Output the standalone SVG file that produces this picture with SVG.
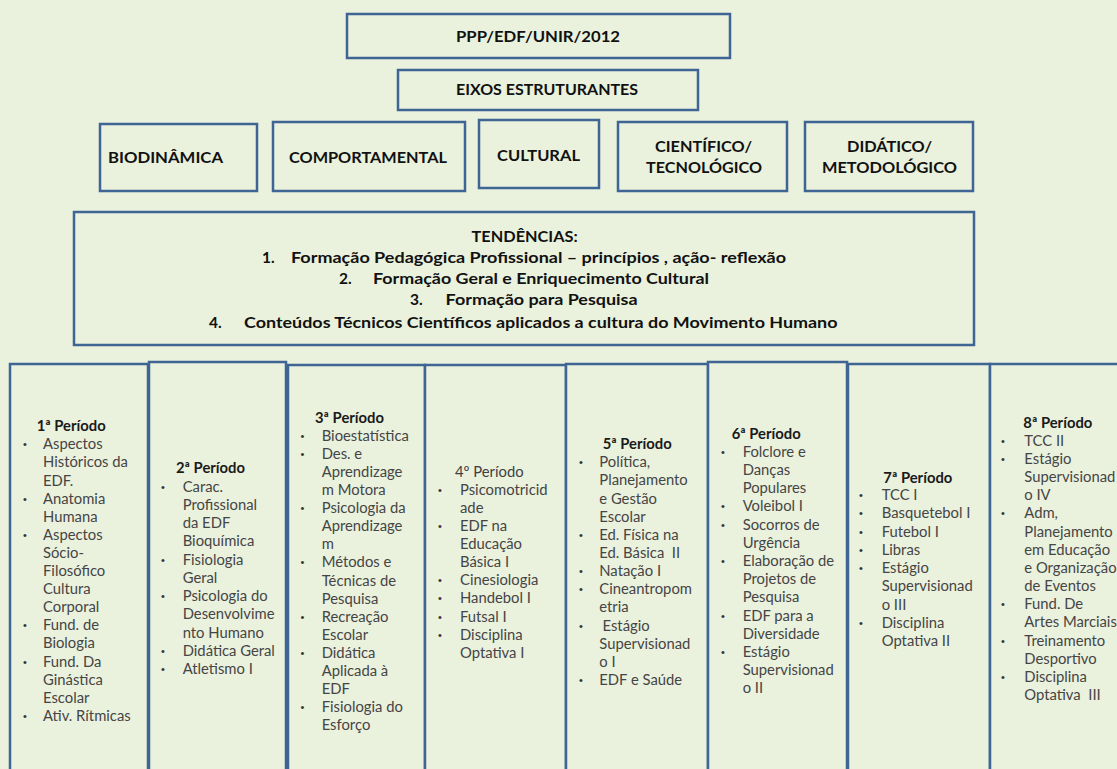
<svg xmlns="http://www.w3.org/2000/svg" width="1117" height="769" viewBox="0 0 1117 769">
<style>
.box{fill:#EAF1DD;stroke:#3F6594;stroke-width:2.5}
.hd{font-family:Lato,"Liberation Sans",sans-serif;font-weight:bold;font-size:16px;fill:#111}
.td{font-family:Lato,"Liberation Sans",sans-serif;font-weight:bold;font-size:15.5px;fill:#111}
.ti{font-family:Lato,"Liberation Sans",sans-serif;font-weight:bold;font-size:14.8px;fill:#1a1a1a}
.tn{font-family:Lato,"Liberation Sans",sans-serif;font-size:14.8px;fill:#404040}
.it{font-family:Lato,"Liberation Sans",sans-serif;font-size:14.8px;fill:#454545}
.bu{font-family:"Liberation Sans",sans-serif;font-size:11px;fill:#333}
</style>
<rect x="0" y="0" width="1117" height="769" fill="#EAF1DD"/>
<g id="ppp"><rect class="box" x="347" y="14" width="383" height="44"/><text class="hd" x="456" y="42" textLength="164" lengthAdjust="spacingAndGlyphs">PPP/EDF/UNIR/2012</text></g>
<g id="eixos"><rect class="box" x="398" y="70" width="300" height="40"/><text class="hd" x="456" y="95" textLength="182" lengthAdjust="spacingAndGlyphs">EIXOS ESTRUTURANTES</text></g>
<g id="biodinamica"><rect class="box" x="100" y="124" width="157" height="67"/><text class="hd" x="108" y="163" textLength="115" lengthAdjust="spacingAndGlyphs">BIODINÂMICA</text></g>
<g id="comportamental"><rect class="box" x="273" y="122" width="192" height="69"/><text class="hd" x="289" y="163" textLength="158" lengthAdjust="spacingAndGlyphs">COMPORTAMENTAL</text></g>
<g id="cultural"><rect class="box" x="479" y="120" width="120" height="68"/><text class="hd" x="497" y="161" textLength="83" lengthAdjust="spacingAndGlyphs">CULTURAL</text></g>
<g id="cientifico"><rect class="box" x="618" y="122" width="169" height="69"/><text class="hd" x="655" y="152" textLength="97" lengthAdjust="spacingAndGlyphs">CIENTÍFICO/</text><text class="hd" x="646" y="173" textLength="116" lengthAdjust="spacingAndGlyphs">TECNOLÓGICO</text></g>
<g id="didatico"><rect class="box" x="805" y="122" width="168" height="69"/><text class="hd" x="847" y="152" textLength="85" lengthAdjust="spacingAndGlyphs">DIDÁTICO/</text><text class="hd" x="822" y="173" textLength="135" lengthAdjust="spacingAndGlyphs">METODOLÓGICO</text></g>
<g id="tendencias"><rect class="box" x="74" y="212" width="900" height="133"/>
<text class="td" x="471.6" y="242" textLength="106" lengthAdjust="spacingAndGlyphs">TENDÊNCIAS:</text>
<text class="td" x="262" y="263">1.</text><text class="td" x="291" y="263" textLength="495" lengthAdjust="spacingAndGlyphs">Formação Pedagógica Profissional – princípios , ação- reflexão</text>
<text class="td" x="339" y="284">2.</text><text class="td" x="373" y="284" textLength="336" lengthAdjust="spacingAndGlyphs">Formação Geral e Enriquecimento Cultural</text>
<text class="td" x="410" y="305">3.</text><text class="td" x="445.6" y="305" textLength="192" lengthAdjust="spacingAndGlyphs">Formação para Pesquisa</text>
<text class="td" x="209" y="328">4.</text><text class="td" x="244" y="328" textLength="593.5" lengthAdjust="spacingAndGlyphs">Conteúdos Técnicos Científicos aplicados a cultura do Movimento Humano</text>
</g>
<g id="p1"><rect class="box" x="10" y="364" width="138" height="440"/>
<text class="ti" x="36.7" y="430.7">1ª Período</text>
<text class="it"><tspan x="43" y="449.3">Aspectos</tspan><tspan x="43" dy="18.1">Históricos da</tspan><tspan x="43" dy="18.1">EDF.</tspan><tspan x="43" dy="18.1">Anatomia</tspan><tspan x="43" dy="18.1">Humana</tspan><tspan x="43" dy="18.1">Aspectos</tspan><tspan x="43" dy="18.1">Sócio-</tspan><tspan x="43" dy="18.1">Filosófico</tspan><tspan x="43" dy="18.1">Cultura</tspan><tspan x="43" dy="18.1">Corporal</tspan><tspan x="43" dy="18.1">Fund. de</tspan><tspan x="43" dy="18.1">Biologia</tspan><tspan x="43" dy="18.1">Fund. Da</tspan><tspan x="43" dy="18.1">Ginástica</tspan><tspan x="43" dy="18.1">Escolar</tspan><tspan x="43" dy="18.1">Ativ. Rítmicas</tspan></text>
<text class="bu"><tspan x="23" y="448.3">•</tspan><tspan x="23" dy="54.3">•</tspan><tspan x="23" dy="36.2">•</tspan><tspan x="23" dy="90.5">•</tspan><tspan x="23" dy="36.2">•</tspan><tspan x="23" dy="54.3">•</tspan></text>
</g>
<g id="p2"><rect class="box" x="149" y="362" width="137" height="442"/>
<text class="ti" x="176" y="473.3">2ª Período</text>
<text class="it"><tspan x="182.7" y="491.7">Carac.</tspan><tspan x="182.7" dy="18.25">Profissional</tspan><tspan x="182.7" dy="18.25">da EDF</tspan><tspan x="182.7" dy="18.25">Bioquímica</tspan><tspan x="182.7" dy="18.25">Fisiologia</tspan><tspan x="182.7" dy="18.25">Geral</tspan><tspan x="182.7" dy="18.25">Psicologia do</tspan><tspan x="182.7" dy="18.25">Desenvolvime</tspan><tspan x="182.7" dy="18.25">nto Humano</tspan><tspan x="182.7" dy="18.25">Didática Geral</tspan><tspan x="182.7" dy="18.25">Atletismo I</tspan></text>
<text class="bu"><tspan x="161" y="490.7">•</tspan><tspan x="161" dy="73">•</tspan><tspan x="161" dy="36.5">•</tspan><tspan x="161" dy="54.75">•</tspan><tspan x="161" dy="18.25">•</tspan></text>
</g>
<g id="p3"><rect class="box" x="288" y="365" width="137" height="439"/>
<text class="ti" x="315" y="422.7">3ª Período</text>
<text class="it"><tspan x="321.7" y="440.7">Bioestatística</tspan><tspan x="321.7" dy="18.1">Des. e</tspan><tspan x="321.7" dy="18.1">Aprendizage</tspan><tspan x="321.7" dy="18.1">m Motora</tspan><tspan x="321.7" dy="18.1">Psicologia da</tspan><tspan x="321.7" dy="18.1">Aprendizage</tspan><tspan x="321.7" dy="18.1">m</tspan><tspan x="321.7" dy="18.1">Métodos e</tspan><tspan x="321.7" dy="18.1">Técnicas de</tspan><tspan x="321.7" dy="18.1">Pesquisa</tspan><tspan x="321.7" dy="18.1">Recreação</tspan><tspan x="321.7" dy="18.1">Escolar</tspan><tspan x="321.7" dy="18.1">Didática</tspan><tspan x="321.7" dy="18.1">Aplicada à</tspan><tspan x="321.7" dy="18.1">EDF</tspan><tspan x="321.7" dy="18.1">Fisiologia do</tspan><tspan x="321.7" dy="18.1">Esforço</tspan></text>
<text class="bu"><tspan x="300.5" y="439.7">•</tspan><tspan x="300.5" dy="18.1">•</tspan><tspan x="300.5" dy="54.3">•</tspan><tspan x="300.5" dy="54.3">•</tspan><tspan x="300.5" dy="54.3">•</tspan><tspan x="300.5" dy="36.2">•</tspan><tspan x="300.5" dy="54.3">•</tspan></text>
</g>
<g id="p4"><rect class="box" x="425" y="365" width="141" height="439"/>
<text class="tn" x="455" y="476.7">4º Período</text>
<text class="it"><tspan x="460" y="495">Psicomotricid</tspan><tspan x="460" dy="18.08">ade</tspan><tspan x="460" dy="18.08">EDF na</tspan><tspan x="460" dy="18.08">Educação</tspan><tspan x="460" dy="18.08">Básica I</tspan><tspan x="460" dy="18.08">Cinesiologia</tspan><tspan x="460" dy="18.08">Handebol I</tspan><tspan x="460" dy="18.08">Futsal I</tspan><tspan x="460" dy="18.08">Disciplina</tspan><tspan x="460" dy="18.08">Optativa I</tspan></text>
<text class="bu"><tspan x="438" y="494">•</tspan><tspan x="438" dy="36.16">•</tspan><tspan x="438" dy="54.24">•</tspan><tspan x="438" dy="18.08">•</tspan><tspan x="438" dy="18.08">•</tspan><tspan x="438" dy="18.08">•</tspan></text>
</g>
<g id="p5"><rect class="box" x="566" y="364" width="142" height="440"/>
<text class="ti" x="602.7" y="449.3">5ª Período</text>
<text class="it"><tspan x="599.3" y="467.3">Política,</tspan><tspan x="599.3" dy="18.14">Planejamento</tspan><tspan x="599.3" dy="18.14">e Gestão</tspan><tspan x="599.3" dy="18.14">Escolar</tspan><tspan x="599.3" dy="18.14">Ed. Física na</tspan><tspan x="599.3" dy="18.14" xml:space="preserve">Ed. Básica  II</tspan><tspan x="599.3" dy="18.14">Natação I</tspan><tspan x="599.3" dy="18.14">Cineantropom</tspan><tspan x="599.3" dy="18.14">etria</tspan><tspan x="602.5" dy="18.14">Estágio</tspan><tspan x="599.3" dy="18.14">Supervisionad</tspan><tspan x="599.3" dy="18.14">o I</tspan><tspan x="599.3" dy="18.14">EDF e Saúde</tspan></text>
<text class="bu"><tspan x="579" y="466.3">•</tspan><tspan x="579" dy="72.56">•</tspan><tspan x="579" dy="36.28">•</tspan><tspan x="579" dy="18.14">•</tspan><tspan x="579" dy="36.28">•</tspan><tspan x="579" dy="54.42">•</tspan></text>
</g>
<g id="p6"><rect class="box" x="708" y="362" width="139" height="442"/>
<text class="ti" x="731.7" y="439">6ª Período</text>
<text class="it"><tspan x="742.7" y="456.7">Folclore e</tspan><tspan x="742.7" dy="18.2">Danças</tspan><tspan x="742.7" dy="18.2">Populares</tspan><tspan x="742.7" dy="18.2">Voleibol I</tspan><tspan x="742.7" dy="18.2">Socorros de</tspan><tspan x="742.7" dy="18.2">Urgência</tspan><tspan x="742.7" dy="18.2">Elaboração de</tspan><tspan x="742.7" dy="18.2">Projetos de</tspan><tspan x="742.7" dy="18.2">Pesquisa</tspan><tspan x="742.7" dy="18.2">EDF para a</tspan><tspan x="742.7" dy="18.2">Diversidade</tspan><tspan x="742.7" dy="18.2">Estágio</tspan><tspan x="742.7" dy="18.2">Supervisionad</tspan><tspan x="742.7" dy="18.2">o II</tspan></text>
<text class="bu"><tspan x="721" y="455.7">•</tspan><tspan x="721" dy="54.6">•</tspan><tspan x="721" dy="18.2">•</tspan><tspan x="721" dy="36.4">•</tspan><tspan x="721" dy="54.6">•</tspan><tspan x="721" dy="36.4">•</tspan></text>
</g>
<g id="p7"><rect class="box" x="848" y="364" width="142" height="440"/>
<text class="ti" x="883.3" y="482.7">7ª Período</text>
<text class="it"><tspan x="881.7" y="500">TCC I</tspan><tspan x="881.7" dy="18.25">Basquetebol I</tspan><tspan x="881.7" dy="18.25">Futebol I</tspan><tspan x="881.7" dy="18.25">Libras</tspan><tspan x="881.7" dy="18.25">Estágio</tspan><tspan x="881.7" dy="18.25">Supervisionad</tspan><tspan x="881.7" dy="18.25">o III</tspan><tspan x="881.7" dy="18.25">Disciplina</tspan><tspan x="881.7" dy="18.25">Optativa II</tspan></text>
<text class="bu"><tspan x="859" y="499">•</tspan><tspan x="859" dy="18.25">•</tspan><tspan x="859" dy="18.25">•</tspan><tspan x="859" dy="18.25">•</tspan><tspan x="859" dy="18.25">•</tspan><tspan x="859" dy="54.75">•</tspan></text>
</g>
<g id="p8"><rect class="box" x="990" y="364" width="140" height="440"/>
<text class="ti" x="1023.3" y="427.7">8ª Período</text>
<text class="it"><tspan x="1024.3" y="445.7">TCC II</tspan><tspan x="1024.3" dy="18.17">Estágio</tspan><tspan x="1024.3" dy="18.17">Supervisionad</tspan><tspan x="1024.3" dy="18.17">o IV</tspan><tspan x="1024.3" dy="18.17">Adm,</tspan><tspan x="1024.3" dy="18.17">Planejamento</tspan><tspan x="1024.3" dy="18.17">em Educação</tspan><tspan x="1024.3" dy="18.17">e Organização</tspan><tspan x="1024.3" dy="18.17">de Eventos</tspan><tspan x="1024.3" dy="18.17">Fund. De</tspan><tspan x="1024.3" dy="18.17">Artes Marciais</tspan><tspan x="1024.3" dy="18.17">Treinamento</tspan><tspan x="1024.3" dy="18.17">Desportivo</tspan><tspan x="1024.3" dy="18.17">Disciplina</tspan><tspan x="1024.3" dy="18.17" xml:space="preserve">Optativa  III</tspan></text>
<text class="bu"><tspan x="1001" y="444.7">•</tspan><tspan x="1001" dy="18.17">•</tspan><tspan x="1001" dy="54.51">•</tspan><tspan x="1001" dy="90.85">•</tspan><tspan x="1001" dy="36.34">•</tspan><tspan x="1001" dy="36.34">•</tspan></text>
</g>
<g id="connectors"></g>
</svg>
